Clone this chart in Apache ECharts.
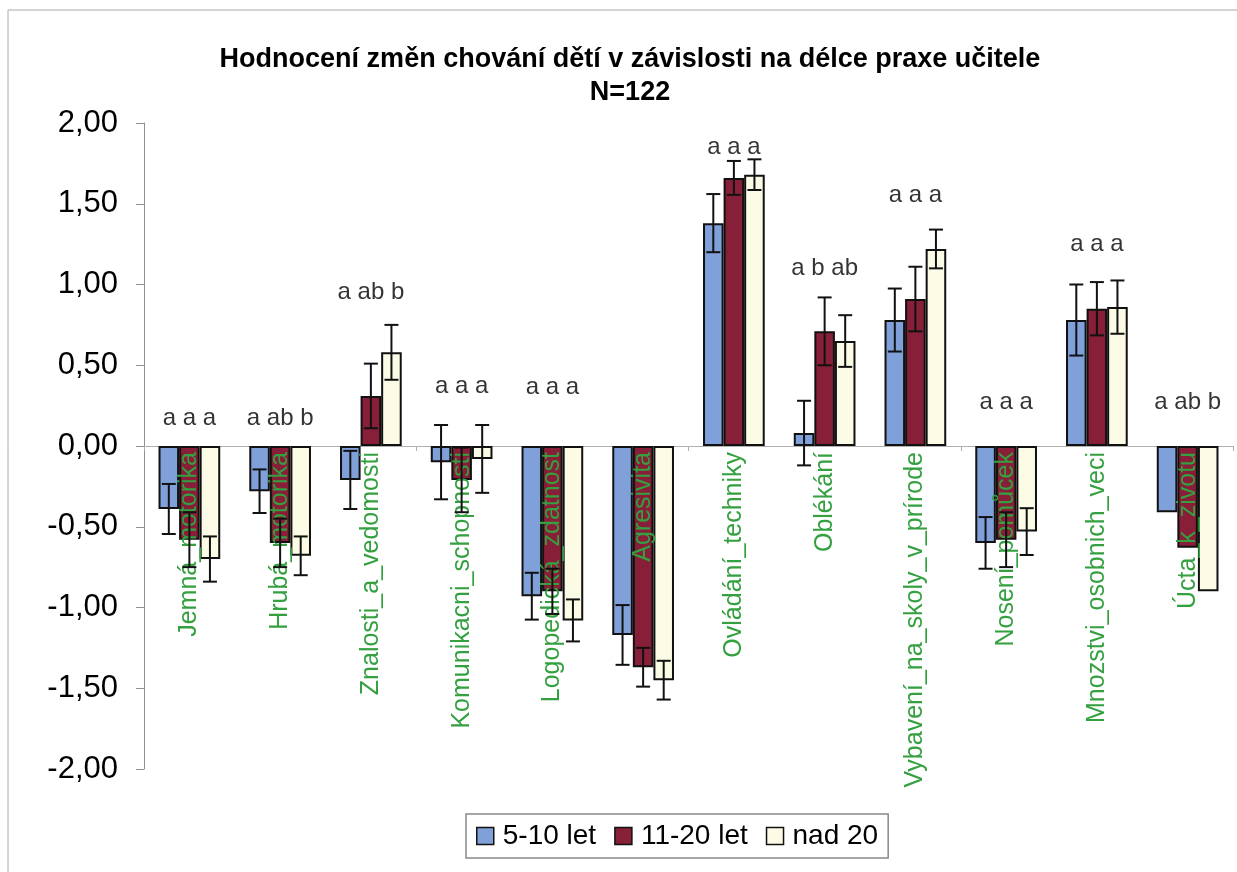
<!DOCTYPE html>
<html>
<head>
<meta charset="utf-8">
<script src="https://cdn.jsdelivr.net/npm/echarts@6/dist/echarts.min.js"></script>
<style>
html,body{margin:0;padding:0;background:#fff;}
#chart{width:1237px;height:872px;}
</style>
</head>
<body>
<div id="chart"></div>
<script>
const categories = ["Jemná_motorika","Hrubá_motorika","Znalosti_a_vedomosti","Komunikacni_schopnosti","Logopedická_zdatnost","Agresivita","Ovládání_techniky","Oblékání","Vybavení_na_skoly_v_prírode","Nosení_pomůcek","Mnozstvi_osobnich_veci","Úcta_k_zivotu"];
const seriesNames = ["5-10 let","11-20 let","nad 20"];
const values5to10 = [-0.39,-0.28,-0.21,-0.10,-0.93,-1.17,1.38,0.08,0.78,-0.60,0.78,-0.41];
const values11to20 = [-0.58,-0.60,0.31,-0.21,-0.90,-1.37,1.66,0.71,0.91,-0.58,0.85,-0.63];
const valuesOver20 = [-0.70,-0.68,0.58,-0.08,-1.08,-1.45,1.68,0.65,1.22,-0.53,0.86,-0.90];
const errors5to10 = [0.155,0.135,0.18,0.23,0.145,0.185,0.18,0.20,0.195,0.16,0.22,null];
const errors11to20 = [0.17,0.15,0.20,0.20,0.14,0.12,0.105,0.21,0.20,0.17,0.165,null];
const errorsOver20 = [0.14,0.12,0.17,0.21,0.13,0.12,0.095,0.16,0.12,0.145,0.165,null];
const letters = ["a a a","a ab b","a ab b","a a a","a a a","","a a a","a b ab","a a a","a a a","a a a","a ab b"];
const letterHeights = [0.17,0.17,0.95,0.37,0.36,null,1.85,1.10,1.55,0.27,1.25,0.27];
const yTicks = {min:-2, max:2, interval:0.5};

const FONT = 'Liberation Sans, Arial, sans-serif';
const colors = ['#80a0da','#861f37','#fcfce6'];
const allValues = [values5to10, values11to20, valuesOver20];
const allErrors = [errors5to10, errors11to20, errorsOver20];
const catGap = 0.32;

const chart = echarts.init(document.getElementById('chart'), null, {renderer:'canvas'});

const barSeries = seriesNames.map((n,i)=>({
  name:n, type:'bar', data: allValues[i],
  barGap:'0%', barCategoryGap:(catGap*100)+'%',
  itemStyle:{color:colors[i], borderColor:'#111', borderWidth:2},
  z:2
}));

const errSeries = seriesNames.map((n,si)=>({
  type:'custom', name:n+'_err', z:4, silent:true,
  data: allValues[si].map((v,i)=> allErrors[si][i]==null ? null : [i, v-allErrors[si][i], v+allErrors[si][i]]).filter(d=>d),
  encode:{x:0, y:[1,2]},
  renderItem:function(params, api){
    const idx = api.value(0);
    const band = api.size([1,0])[0];
    const total = band*(1-catGap);
    const bw = total/3;
    const xc = api.coord([idx,0])[0] - total/2 + bw*(si+0.5);
    const yl = api.coord([idx, api.value(1)])[1];
    const yh = api.coord([idx, api.value(2)])[1];
    const h = 7;
    const st = {stroke:'#111', lineWidth:2};
    return {type:'group', children:[
      {type:'line', shape:{x1:xc,y1:yl,x2:xc,y2:yh}, style:st},
      {type:'line', shape:{x1:xc-h,y1:yl,x2:xc+h,y2:yl}, style:st},
      {type:'line', shape:{x1:xc-h,y1:yh,x2:xc+h,y2:yh}, style:st}
    ]};
  }
}));

const catLabelSeries = {
  type:'custom', z:3, silent:true,
  data: categories.map((c,i)=>[i,0]),
  encode:{x:0, y:1},
  renderItem:function(params, api){
    const idx = api.value(0);
    const p = api.coord([idx, 0]);
    return {type:'text', x:p[0], y:p[1]+6, rotation:Math.PI/2,
      style:{text:categories[idx], fill:'#34a040', fontSize:25, fontFamily:FONT, align:'right', verticalAlign:'middle'}};
  }
};

const letterSeries = {
  type:'scatter', symbolSize:0, silent:true, z:5,
  data: letterHeights.map((h,i)=> h==null ? null : {value:[i,h], name:letters[i]}).filter(d=>d),
  label:{show:true, position:'inside', formatter:p=>p.name, color:'#000', fontSize:24, fontFamily:FONT}
};

chart.setOption({
  backgroundColor:'#fff',
  animation:false,
  title:{
    text:'Hodnocení změn chování dětí v závislosti na délce praxe učitele\nN=122',
    left:625, top:38, textAlign:'center',
    textStyle:{fontSize:27, fontWeight:'bold', color:'#000', lineHeight:33, fontFamily:FONT}
  },
  legend:{
    data:seriesNames, left:466, top:814,
    icon:'rect', itemWidth:17, itemHeight:17, itemGap:18,
    padding:[8,10,8,10],
    borderColor:'#888', borderWidth:1.5,
    itemStyle:{borderColor:'#111', borderWidth:1.5},
    textStyle:{fontSize:28, color:'#000', fontFamily:FONT, padding:[0,0,0,4]}
  },
  grid:{left:144, right:4, top:123, bottom:103, containLabel:false, outerBoundsMode:'none'},
  xAxis:{
    type:'category', data:categories,
    axisLine:{onZero:true, lineStyle:{color:'#b0b0b0', width:1}},
    axisTick:{show:true, length:5, inside:false, lineStyle:{color:'#b0b0b0'}},
    axisLabel:{show:false},
    splitLine:{show:false}
  },
  yAxis:{
    type:'value', min:yTicks.min, max:yTicks.max, interval:yTicks.interval,
    axisLine:{show:true, lineStyle:{color:'#909090'}},
    axisTick:{show:true, length:8, lineStyle:{color:'#909090'}},
    axisLabel:{margin:26, color:'#000', fontSize:31, fontFamily:FONT,
      formatter:v=>v.toFixed(2).replace('.',',')},
    splitLine:{show:false}
  },
  graphic:[{type:'rect', shape:{x:8,y:10,width:1240,height:870}, style:{fill:'none', stroke:'#aaa', lineWidth:1}, z:-1}],
  series:[...barSeries, ...errSeries, catLabelSeries, letterSeries]
});
</script>
</body>
</html>
